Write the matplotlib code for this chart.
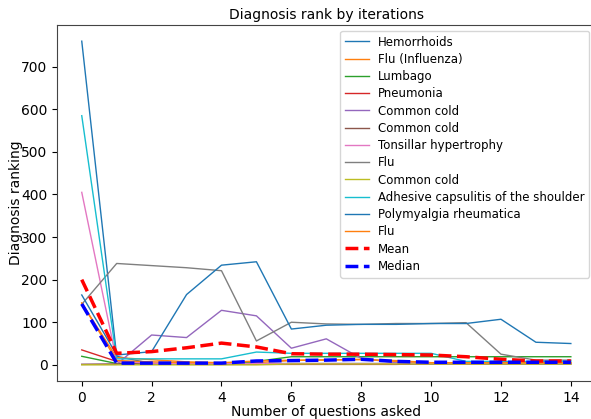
import numpy as np
import matplotlib
matplotlib.use("Agg")
import matplotlib.pyplot as plt

iterations = list(range(15))

names = ["Hemorrhoids", "Flu (Influenza)", "Lumbago", "Pneumonia", "Common cold",
         "Common cold", "Tonsillar hypertrophy", "Flu", "Common cold",
         "Adhesive capsulitis of the shoulder", "Polymyalgia rheumatica", "Flu"]

hemorrhoids = [760, 20, 3, 3, 3, 3, 3, 3, 3, 3, 3, 3, 3, 3, 3]
flu_influenza = [145, 17, 12, 7, 5, 5, 10, 12, 12, 10, 5, 5, 5, 5, 5]
lumbago = [20, 3, 2, 2, 2, 8, 19, 19, 19, 19, 19, 19, 19, 19, 19]
pneumonia = [35, 8, 2, 1, 1, 1, 1, 1, 1, 1, 3, 3, 3, 3, 3]
common_cold_1 = [1, 1, 70, 64, 128, 115, 39, 61, 15, 5, 3, 3, 3, 3, 3]
common_cold_2 = [1, 2, 2, 2, 2, 2, 2, 2, 2, 2, 2, 2, 2, 2, 2]
tonsillar = [405, 8, 4, 3, 3, 3, 3, 3, 3, 3, 3, 3, 3, 3, 3]
flu_2 = [142, 238, 233, 228, 221, 56, 100, 96, 95, 97, 97, 99, 25, 11, 11]
common_cold_3 = [0, 0, 0, 0, 0, 0, 2, 2, 2, 2, 2, 2, 2, 2, 2]
adhesive = [585, 14, 14, 14, 14, 30, 27, 27, 27, 27, 27, 8, 8, 8, 8]
polymyalgia = [164, 23, 31, 165, 234, 242, 84, 93, 95, 95, 97, 97, 107, 53, 50]
flu_3 = [145, 10, 7, 5, 5, 9, 11, 11, 13, 8, 5, 5, 5, 5, 5]

series = [hemorrhoids, flu_influenza, lumbago, pneumonia, common_cold_1, common_cold_2,
          tonsillar, flu_2, common_cold_3, adhesive, polymyalgia, flu_3]

mean_rank = [200, 27, 31, 40, 51, 42, 26, 25, 25, 24, 23, 19, 13, 9, 9]
median_rank = [143, 4, 4, 4, 4, 9, 10, 11, 13, 8, 6, 6, 6, 6, 6]

colors = ["C0", "C1", "C2", "C3", "C4", "C5", "C6", "C7", "C8", "C9", "C0", "C1"]

fig = plt.figure(figsize=(5.91, 4.19), dpi=100)
ax = fig.add_axes([57.3/591, 38/419, 538/591, 356/419])

for vals, name, c in zip(series, names, colors):
    ax.plot(iterations, vals, color=c, lw=1.0, label=name)
ax.plot(iterations, mean_rank, "r--", lw=2.5, label="Mean")
ax.plot(iterations, median_rank, "b--", lw=2.5, label="Median")

ax.set_title("Diagnosis rank by iterations", fontsize=10, pad=4)
ax.set_xlabel("Number of questions asked", fontsize=10, labelpad=0)
ax.set_ylabel("Diagnosis ranking", fontsize=10, labelpad=-1)
ax.set_xticks(range(0, 15, 2))
ax.tick_params(labelsize=10)
for s in ax.spines.values():
    s.set_color("#444444")

ax.legend(loc="upper right", fontsize=8.5, labelspacing=0.36)

fig.savefig("out.png", dpi=100)
